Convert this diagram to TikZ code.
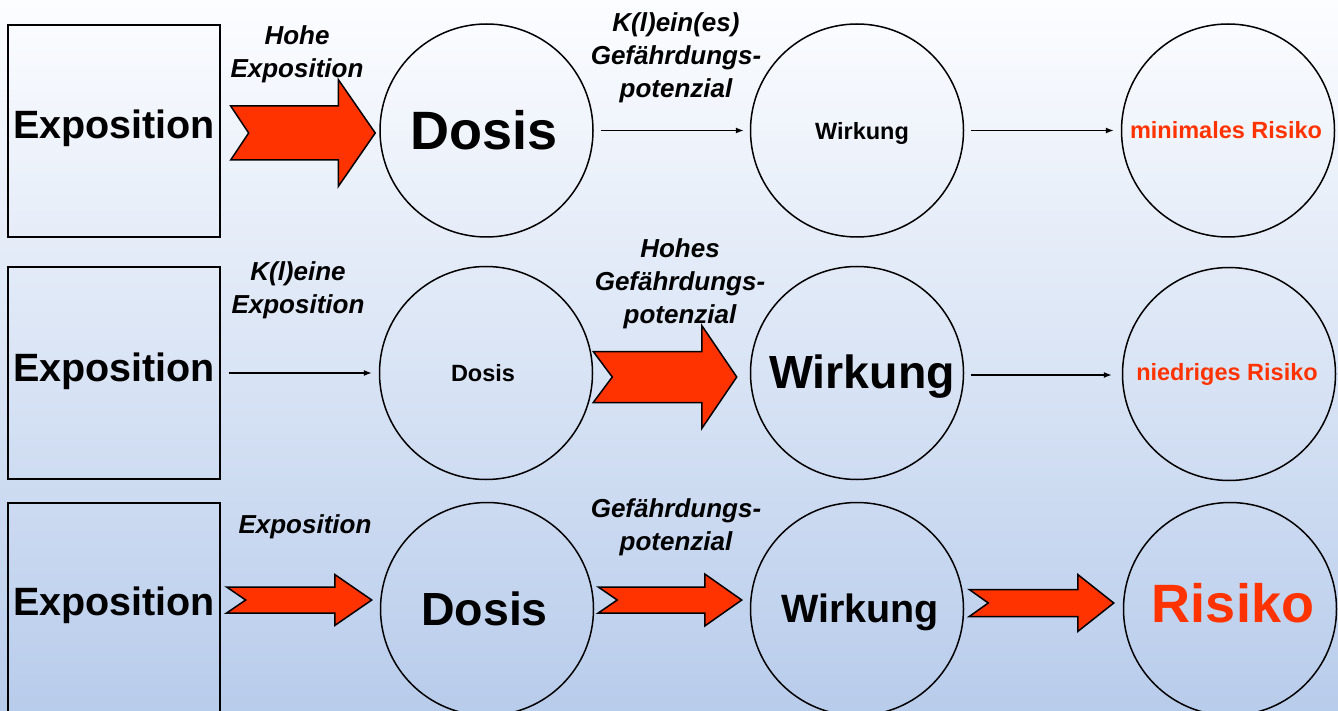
\documentclass[tikz,border=0pt]{standalone}
\usepackage{fontspec}
\setmainfont{Liberation Sans}
\usetikzlibrary{calc,arrows.meta}
\definecolor{riskred}{RGB}{255,51,0}
\definecolor{bgtop}{RGB}{252,253,255}
\definecolor{bgbot}{RGB}{184,204,235}
\tikzset{
  expbox/.style={draw, line width=1.3pt, minimum width=212pt, minimum height=212pt, inner sep=0pt,
    font=\fontsize{39.5}{41}\selectfont\bfseries},
  circ/.style={circle, draw, line width=1.5pt, minimum size=213pt, inner sep=0pt},
  huge/.style={font=\fontsize{54}{56}\selectfont\bfseries},
  big/.style={font=\fontsize{46.5}{48}\selectfont\bfseries},
  mid/.style={font=\fontsize{39.5}{41}\selectfont\bfseries},
  small/.style={font=\fontsize{23.5}{25}\selectfont\bfseries},
  lab/.style={align=center, inner sep=0pt, font=\fontsize{26}{33}\selectfont\bfseries\itshape},
  fatstyle/.style={fill=riskred, draw=black, line width=1.5pt, line join=miter},
  thinarrow/.style={line width=1.2pt, -{Latex[length=8pt,width=6pt]}}
}
% #1 from, #2 to, #3 start gap, #4 end gap, #5 tail half, #6 head half, #7 head length, #8 notch, #9 y shift
\newcommand{\fatarrow}[9]{%
  \coordinate (fas) at ($(#1.east)+(#3,#9)$);
  \coordinate (fat) at ($(#2.west |- #1.east)+(-#4,#9)$);
  \draw[fatstyle] ($(fas)+(0,-#5)$) -- ($(fat)+(-#7,-#5)$) -- ($(fat)+(-#7,-#6)$) -- (fat)
    -- ($(fat)+(-#7,#6)$) -- ($(fat)+(-#7,#5)$) -- ($(fas)+(0,#5)$) -- ($(fas)+(#8,0)$) -- cycle;
}
\newcommand{\shifttext}[3]{\hspace*{#1}\raisebox{#2}[\height][\depth]{#3}}
\begin{document}
\begin{tikzpicture}[x=1pt,y=-1pt]
\useasboundingbox (0,0) rectangle (1338,711);
\shade[top color=bgtop, bottom color=bgbot] (0,0) rectangle (1338,711);

% Row 1
\node[expbox] (b1) at (114,131) {\shifttext{0pt}{3pt}{Exposition}};
\node[circ, huge] (d1) at (486.5,130.5) {\shifttext{-4pt}{0pt}{Dosis}};
\node[circ, small] (w1) at (857,130.5) {\shifttext{10pt}{-3pt}{Wirkung}};
\node[circ, small, text=riskred] (r1) at (1228,130.5) {\shifttext{-4pt}{0pt}{minimales Risiko}};
\node[lab] (l1) at (297,54) {Hohe\\Exposition};
\node[lab] (l2) at (676,58) {K(l)ein(es)\\Gefährdungs-\\potenzial};
\fatarrow{b1}{d1}{10}{4}{27}{53.5}{37}{18}{2}
\draw[thinarrow, shorten <=7pt, shorten >=6pt] (d1) -- (w1);
\draw[thinarrow, shorten <=7pt, shorten >=7pt] (w1) -- (r1);

% Row 2
\node[expbox] (b2) at (114,373) {\shifttext{0pt}{2pt}{Exposition}};
\node[circ, small] (d2) at (486,373) {\shifttext{-6pt}{0pt}{Dosis}};
\node[circ, big] (w2) at (857,373) {\shifttext{10pt}{-4pt}{Wirkung}};
\node[circ, small, text=riskred] (r2) at (1229,374) {\shifttext{-4pt}{0pt}{niedriges Risiko}};
\node[lab] (l3) at (298,290) {K(l)eine\\Exposition};
\node[lab] (l4) at (680,284) {Hohes\\Gefährdungs-\\potenzial};
\draw[thinarrow, shorten <=8pt, shorten >=7pt] (b2) -- (d2);
\fatarrow{d2}{w2}{0}{13}{25.5}{51.5}{35}{19}{4}
\draw[thinarrow, shorten <=7pt, shorten >=10pt] ([yshift=-2pt]w2.east) -- ([yshift=-2pt]w2.east -| r2.west);

% Row 3
\node[expbox] (b3) at (114,609) {\shifttext{0pt}{4pt}{Exposition}};
\node[circ, big] (d3) at (487,609) {\shifttext{-5pt}{0pt}{Dosis}};
\node[circ, mid] (w3) at (857,609) {\shifttext{6pt}{-3pt}{Wirkung}};
\node[circ, huge, text=riskred] (r3) at (1230,609) {\shifttext{6pt}{6pt}{Risiko}};
\node[lab] (l5) at (305,527) {Exposition};
\node[lab] (l6) at (676,527) {Gefährdungs-\\potenzial};
\fatarrow{b3}{d3}{6}{8}{13}{25.5}{37}{19}{-9}
\fatarrow{d3}{w3}{4}{8}{13}{26}{37}{19}{-9}
\fatarrow{w3}{r3}{5}{9}{13.5}{28.5}{36}{19}{-6}
\end{tikzpicture}
\end{document}
